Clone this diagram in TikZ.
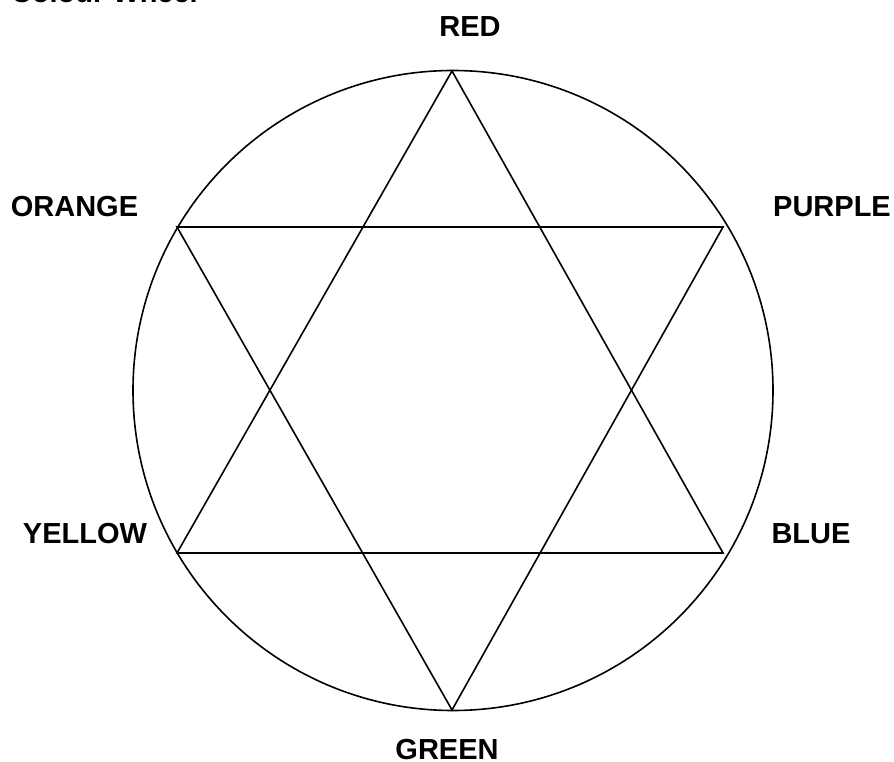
\documentclass[tikz,border=0pt]{standalone}
\usepackage{fontspec}
\setmainfont{Liberation Sans}
\begin{document}
\begin{tikzpicture}[x=1pt,y=-1pt,
  lbl/.style={font=\bfseries\fontsize{29}{31}\selectfont, inner sep=0pt, anchor=base},
  edge/.style={line width=1.6pt, line join=miter}]
\useasboundingbox (0,0) rectangle (894,762);
\node[lbl, anchor=base east] (title) at (198,2.5) {The Colour Wheel};
\coordinate (c) at (453,390.5);
\draw[edge] (c) circle [radius=320];
\coordinate (vR) at (452,71);
\coordinate (vP) at (723,227);
\coordinate (vB) at (723,553);
\coordinate (vG) at (452,710);
\coordinate (vY) at (177,553);
\coordinate (vO) at (177,227);
\draw[edge] (vR) -- (vB) -- (vY) -- cycle;
\draw[edge] (vG) -- (vO) -- (vP) -- cycle;
\node[lbl] (red) at (470,36.5) {RED};
\node[lbl] (orange) at (74.5,217) {ORANGE};
\node[lbl] (purple) at (832,217) {PURPLE};
\node[lbl] (yellow) at (85,543) {YELLOW};
\node[lbl] (blue) at (811,543.5) {BLUE};
\node[lbl] (green) at (447,759.5) {GREEN};
\end{tikzpicture}
\end{document}
